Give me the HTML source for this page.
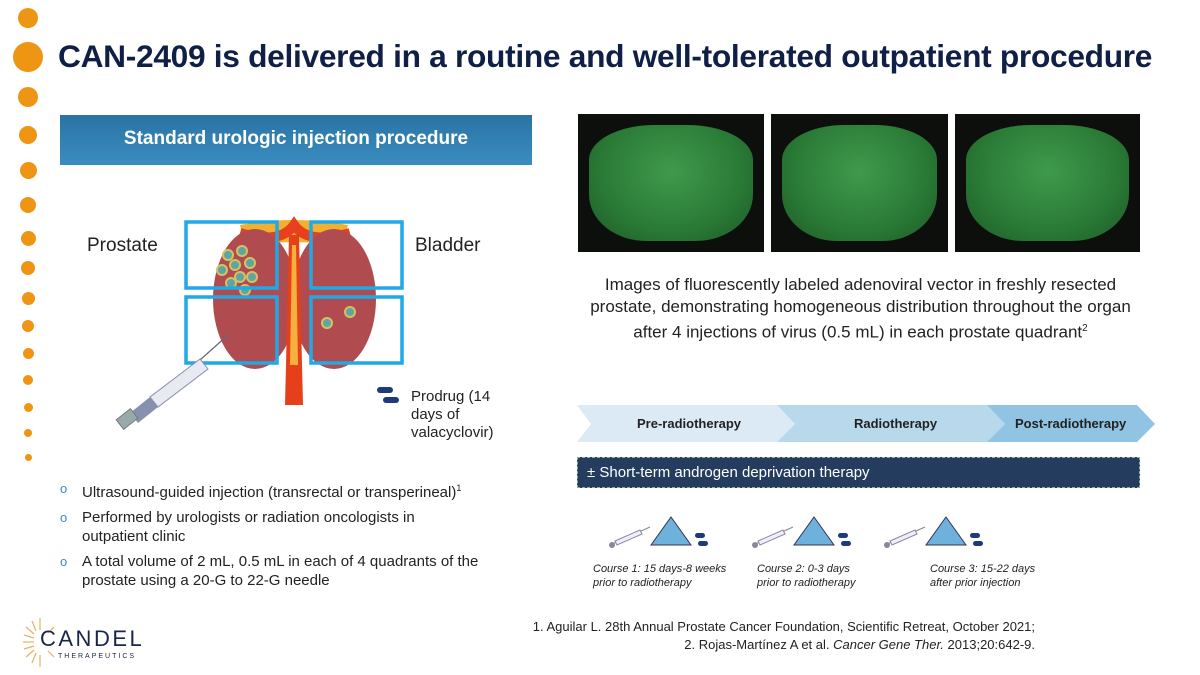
<!DOCTYPE html>
<html><head><meta charset="utf-8"><style>
*{margin:0;padding:0;box-sizing:border-box}
body{width:1200px;height:675px;background:#fff;position:relative;overflow:hidden;font-family:"Liberation Sans",sans-serif;color:#222}
.a{position:absolute}
.dot{position:absolute;background:#ef9514;border-radius:50%}
h1{position:absolute;left:58px;top:38px;font-size:31.7px;font-weight:bold;color:#0f1f45;letter-spacing:-0.3px;white-space:nowrap}
.photo{position:absolute;top:114px;height:138px;background:#0c0f0c;overflow:hidden}
.blob{position:absolute;left:6%;top:8%;width:88%;height:84%;border-radius:40% 40% 35% 35%/30% 30% 40% 40%;background:radial-gradient(ellipse at 50% 40%,#3f9a4c,#2a7a36 60%,#1c5a26)}
.bl{font-size:15px;line-height:19px}
.it{font-style:italic;font-size:11px;line-height:14px;color:#222}
</style></head><body>
<div class="dot" style="left:18px;top:8px;width:20px;height:20px"></div>
<div class="dot" style="left:13px;top:42px;width:30px;height:30px"></div>
<div class="dot" style="left:18px;top:87px;width:20px;height:20px"></div>
<div class="dot" style="left:19px;top:126px;width:18px;height:18px"></div>
<div class="dot" style="left:19.5px;top:161.5px;width:17px;height:17px"></div>
<div class="dot" style="left:20px;top:197px;width:16px;height:16px"></div>
<div class="dot" style="left:20.5px;top:230.5px;width:15px;height:15px"></div>
<div class="dot" style="left:21px;top:261px;width:14px;height:14px"></div>
<div class="dot" style="left:21.5px;top:291.5px;width:13px;height:13px"></div>
<div class="dot" style="left:22px;top:320px;width:12px;height:12px"></div>
<div class="dot" style="left:22.5px;top:347.5px;width:11px;height:11px"></div>
<div class="dot" style="left:23px;top:375px;width:10px;height:10px"></div>
<div class="dot" style="left:23.5px;top:402.5px;width:9px;height:9px"></div>
<div class="dot" style="left:24px;top:429px;width:8px;height:8px"></div>
<div class="dot" style="left:24.5px;top:453.5px;width:7px;height:7px"></div>

<h1>CAN-2409 is delivered in a routine and well-tolerated outpatient procedure</h1>

<div class="a" style="left:60px;top:115px;width:472px;height:50px;background:linear-gradient(#2a73a4,#3a8dc0);color:#fff;font-weight:bold;font-size:19px;text-align:center;line-height:48px">Standard urologic injection procedure</div>

<svg class="a" style="left:110px;top:215px" width="310" height="230">
<path d="M130 10 Q184 0 238 10 L232 32 Q184 22 136 32Z" fill="#f2b030"/>
<path d="M130 18 Q170 30 184 10 Q198 30 240 18" stroke="#e8401c" stroke-width="10" fill="none"/>
<ellipse cx="145" cy="84" rx="42" ry="70" fill="#b04c50"/>
<ellipse cx="224" cy="84" rx="42" ry="70" fill="#b04c50"/>
<path d="M179 20 L189 20 L192 150 L193 190 L175 190 L176 150Z" fill="#e6401a"/>
<path d="M182 30 L186 30 L188 150 L180 150Z" fill="#f6b040"/>
<g fill="#5aa7a4" stroke="#d8c060" stroke-width="2">
<circle cx="118" cy="40" r="5"/><circle cx="132" cy="36" r="5"/><circle cx="125" cy="50" r="5"/><circle cx="140" cy="48" r="5"/><circle cx="112" cy="55" r="5"/><circle cx="130" cy="62" r="5"/><circle cx="142" cy="62" r="5"/><circle cx="121" cy="68" r="5"/><circle cx="135" cy="75" r="5"/>
<circle cx="240" cy="97" r="5"/><circle cx="217" cy="108" r="5"/>
</g>
<g fill="none" stroke="#1fa9e6" stroke-width="3.5">
<rect x="76" y="7" width="91" height="66"/><rect x="201" y="7" width="91" height="66"/>
<rect x="76" y="82" width="91" height="66"/><rect x="201" y="82" width="91" height="66"/>
</g>
<line x1="118" y1="120" x2="90" y2="145" stroke="#667" stroke-width="1.2"/>
<path d="M90 144 L40 182 L48 192 L98 154Z" fill="#e8eaf2" stroke="#8890a8"/>
<path d="M40 182 L20 198 L28 208 L48 192Z" fill="#8890b0"/>
<rect x="8" y="198" width="18" height="12" transform="rotate(-38 17 204)" fill="#9aa" stroke="#778"/>
</svg>
<div class="a" style="left:87px;top:235px;font-size:19px">Prostate</div>
<div class="a" style="left:415px;top:235px;font-size:19px">Bladder</div>
<svg class="a" style="left:375px;top:385px" width="30" height="22"><rect x="2" y="2" width="16" height="6" rx="3" fill="#1f3a78"/><rect x="8" y="12" width="16" height="6" rx="3" fill="#1f3a78"/></svg>
<div class="a" style="left:411px;top:388px;font-size:15px;line-height:18px">Prodrug (14<br>days of<br>valacyclovir)</div>

<div class="a" style="left:60px;top:479px;width:440px">
<div class="bl" style="position:relative;padding-left:22px;margin-bottom:6px"><span class="a" style="left:0;top:0;color:#3a8dc0;font-size:13px">o</span>Ultrasound-guided injection (transrectal or transperineal)<sup style="font-size:9px">1</sup></div>
<div class="bl" style="position:relative;padding-left:22px;margin-bottom:6px"><span class="a" style="left:0;top:0;color:#3a8dc0;font-size:13px">o</span>Performed by urologists or radiation oncologists in<br>outpatient clinic</div>
<div class="bl" style="position:relative;padding-left:22px"><span class="a" style="left:0;top:0;color:#3a8dc0;font-size:13px">o</span>A total volume of 2 mL, 0.5 mL in each of 4 quadrants of the prostate using a 20-G to 22-G needle</div>
</div>

<div class="photo" style="left:578px;width:186px"><div class="blob"></div></div>
<div class="photo" style="left:771px;width:177px"><div class="blob"></div></div>
<div class="photo" style="left:955px;width:185px"><div class="blob"></div></div>

<div class="a" style="left:588px;top:274px;width:545px;text-align:center;font-size:17px;line-height:22px">Images of fluorescently labeled adenoviral vector in freshly resected prostate, demonstrating homogeneous distribution throughout the organ after 4 injections of virus (0.5 mL) in each prostate quadrant<sup style="font-size:10px">2</sup></div>

<svg class="a" style="left:577px;top:405px" width="580" height="38">
<path d="M0 0 L200 0 L218 19 L200 37 L0 37 L14 19Z" fill="#dbeaf5"/>
<path d="M200 0 L410 0 L428 19 L410 37 L200 37 L218 19Z" fill="#b8d8ec"/>
<path d="M410 0 L560 0 L578 19 L560 37 L410 37 L428 19Z" fill="#91c3e2"/>
</svg>
<div class="a" style="left:637px;top:416px;font-size:13px;font-weight:bold">Pre-radiotherapy</div>
<div class="a" style="left:854px;top:416px;font-size:13px;font-weight:bold">Radiotherapy</div>
<div class="a" style="left:1015px;top:416px;font-size:13px;font-weight:bold">Post-radiotherapy</div>

<div class="a" style="left:577px;top:457px;width:563px;height:31px;background:#243d5e;color:#fff;font-size:15px;line-height:30px;padding-left:9px;border:1px dashed #9aa">± Short-term androgen deprivation therapy</div>

<svg class="a" style="left:600px;top:515px" width="420" height="40">
<g id="c"><line x1="10" y1="30" x2="50" y2="12" stroke="#888"/><path d="M15 26 L40 15 L42 19 L17 30Z" fill="#eef" stroke="#889"/><circle cx="12" cy="30" r="3" fill="#889"/>
<path d="M71 2 L91 30 L51 30Z" fill="#6fb1dd" stroke="#335"/>
<rect x="95" y="18" width="10" height="5" rx="2.5" fill="#1f3a78"/><rect x="98" y="26" width="10" height="5" rx="2.5" fill="#1f3a78"/></g>
<use href="#c" x="143"/><use href="#c" x="275"/>
</svg>
<div class="a it" style="left:593px;top:562px">Course 1: 15 days-8 weeks<br>prior to radiotherapy</div>
<div class="a it" style="left:757px;top:562px">Course 2: 0-3 days<br>prior to radiotherapy</div>
<div class="a it" style="left:930px;top:562px">Course 3: 15-22 days<br>after prior injection</div>

<div class="a" style="left:460px;top:618px;width:575px;text-align:right;font-size:13px;line-height:18px">1. Aguilar L. 28th Annual Prostate Cancer Foundation, Scientific Retreat, October 2021;<br>2. Rojas-Martínez A et al. <i>Cancer Gene Ther.</i> 2013;20:642-9.</div>

<svg class="a" style="left:20px;top:615px" width="40" height="55"><g stroke="#e8b060" stroke-width="1.2">
<line x1="20" y1="3" x2="20" y2="15"/><line x1="20" y1="52" x2="20" y2="40"/><line x1="3" y1="27" x2="14" y2="27"/><line x1="6" y1="12" x2="14" y2="19"/><line x1="6" y1="42" x2="14" y2="35"/><line x1="34" y1="12" x2="28" y2="18"/><line x1="34" y1="42" x2="28" y2="36"/><line x1="12" y1="6" x2="16" y2="16"/><line x1="12" y1="48" x2="16" y2="38"/><line x1="4" y1="20" x2="14" y2="23"/><line x1="4" y1="34" x2="14" y2="31"/></g></svg>
<div class="a" style="left:40px;top:626px;font-size:22px;color:#1a2648;letter-spacing:2.5px">CANDEL</div>
<div class="a" style="left:58px;top:653px;font-size:7px;color:#1a2648;letter-spacing:2px">THERAPEUTICS</div>
</body></html>
